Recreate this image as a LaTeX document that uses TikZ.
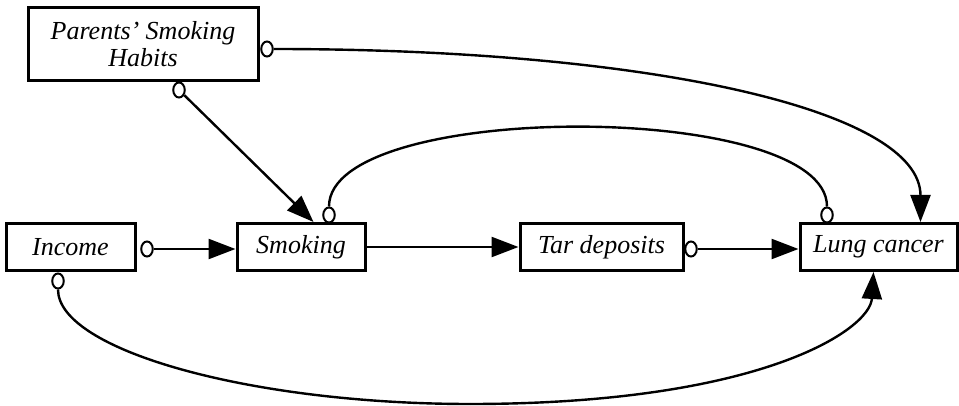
\documentclass[tikz,border=0pt]{standalone}
\usepackage{fontspec}
\setmainfont{Liberation Serif}
\usetikzlibrary{arrows.meta,shapes.geometric,calc}
\begin{document}
\begin{tikzpicture}[x=1pt,y=-1pt,
  box/.style={draw,line width=3pt,rectangle,inner sep=0pt,minimum height=47pt,
    font=\fontsize{26}{27}\selectfont\itshape,align=center},
  omark/.style={draw,ellipse,line width=2pt,inner sep=0pt,minimum width=11.5pt,minimum height=15pt},
  arr/.style={line width=2.4pt,-{Triangle[length=27pt,width=20pt]}},
  edge/.style={line width=2.4pt}]
\useasboundingbox (0,0) rectangle (959,406);
% boxes
\node[box,minimum width=230pt,minimum height=73pt] (parents) at (143,44.5) {\raisebox{-3pt}{\parbox{200pt}{\centering Parents' Smoking\\Habits}}};
\node[box,minimum width=129pt] (income) at (70.5,247) {Income};
\node[box,minimum width=128pt] (smoking) at (301,247) {Smoking};
\node[box,minimum width=163pt] (tar) at (601.5,247) {Tar deposits};
\node[box,minimum width=157pt] (lung) at (878.5,247) {Lung cancer};
% circle marks
\node[omark] (oPr) at (267,49) {};
\node[omark] (oPb) at (179,90) {};
\node[omark] (oIr) at (147,249) {};
\node[omark] (oIb) at (58,281) {};
\node[omark] (oSt) at (329,215) {};
\node[omark] (oTr) at (691,249) {};
\node[omark] (oLt) at (827,215) {};
% tips
\coordinate (tSm) at ($(smoking.north west)+(78,0)$);
\coordinate (tLt) at ($(lung.north west)+(122,0)$);
\coordinate (tLb) at ($(lung.south west)+(75,0)$);
% connectors
\draw[arr] (oIr.east) -- (oIr.east -| smoking.west);
\draw[arr] (smoking.east) -- (tar.west);
\draw[arr] (oTr.east) -- (oTr.east -| lung.west);
\draw[arr] (oPb) -- (tSm);
\draw[arr] (oPr.east) .. controls (650,49) and (tLt |- 0,110) .. (tLt);
\draw[edge] (oSt.north) .. controls (329,100) and (827,100) .. (oLt.north);
\draw[edge] (oIb.south) .. controls (58,350) and (250,404) .. (470,404);
\draw[arr] (470,404) .. controls (760,404) and (870,330) .. (tLb);
\end{tikzpicture}
\end{document}
